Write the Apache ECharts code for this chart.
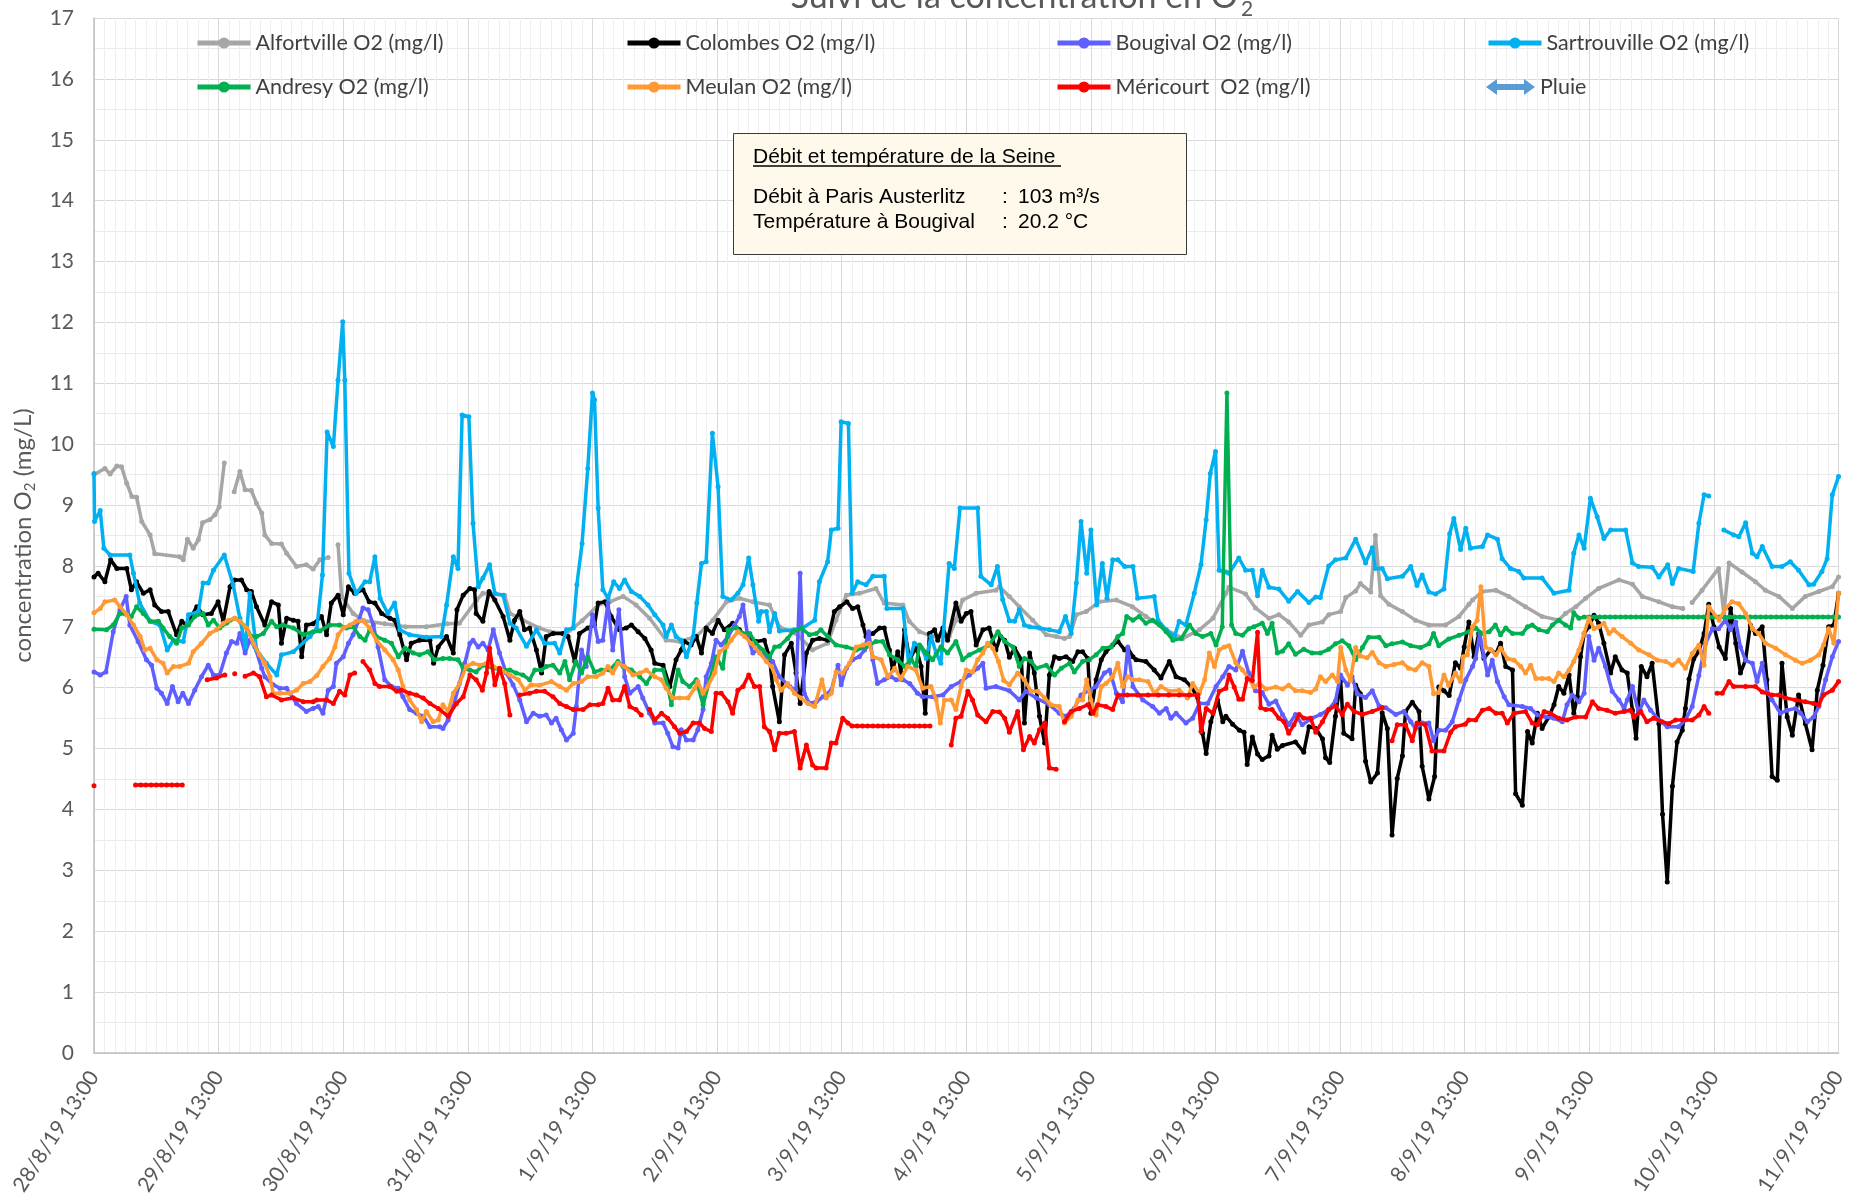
<!DOCTYPE html>
<html><head><meta charset="utf-8">
<script src="https://cdn.jsdelivr.net/npm/echarts@6/dist/echarts.min.js"></script>
<style>html,body{margin:0;padding:0;background:#fff}#c{width:1849px;height:1201px}</style>
</head><body><div id="c"></div>
<script>
// ---- tick labels ----
const xLabels = ['28/8/19 13:00','29/8/19 13:00','30/8/19 13:00','31/8/19 13:00','1/9/19 13:00','2/9/19 13:00','3/9/19 13:00','4/9/19 13:00','5/9/19 13:00','6/9/19 13:00','7/9/19 13:00','8/9/19 13:00','9/9/19 13:00','10/9/19 13:00','11/9/19 13:00'];
const seriesNames = ['Alfortville O2 (mg/l)','Colombes O2 (mg/l)','Bougival O2 (mg/l)','Sartrouville O2 (mg/l)','Andresy O2 (mg/l)','Meulan O2 (mg/l)','Méricourt  O2 (mg/l)','Pluie'];

// ---- data: [hours since 28/8/19 13:00, O2 mg/L] ----
const alfortville = [[0,9.5],[2.1,9.6],[3.1,9.51],[4.4,9.64],[5.3,9.63],[6.3,9.36],[7.3,9.14],[8.2,9.13],[9.2,8.73],[10.8,8.51],[11.7,8.2],[16.5,8.15],[17.2,8.1],[18,8.44],[19.1,8.29],[20.1,8.43],[20.9,8.71],[22.3,8.76],[23.3,8.84],[24.1,8.97],[25.1,9.69],[26,'-'],[27,9.22],[28.1,9.55],[29.1,9.25],[30.3,9.24],[31.3,9.03],[32.3,8.87],[32.9,8.51],[34.2,8.37],[36.1,8.36],[37.1,8.21],[39,7.99],[40.9,8.02],[42.2,7.95],[43.5,8.1],[45.1,8.14],[46,'-'],[47,8.35],[47.7,7.5],[49.9,7.22],[52,7.1],[56,7.05],[60,7.0],[64,7.0],[68,7.05],[70.4,7.06],[73.7,7.44],[74.9,7.55],[79.1,7.52],[80.1,7.22],[82.6,7.11],[85.8,6.98],[87.8,6.92],[91,6.89],[94,7.1],[97.1,7.36],[99.3,7.41],[101.9,7.5],[104.4,7.36],[107,7.14],[110.2,6.78],[112.8,6.76],[116,6.84],[119.2,7.11],[121.8,7.41],[124.3,7.47],[126.9,7.41],[130.1,7.36],[132,7.0],[135.2,6.89],[138.4,6.62],[141.3,6.73],[142.9,7.11],[144.9,7.52],[147.4,7.55],[150.6,7.63],[152.2,7.39],[155.8,7.36],[157,7.09],[159,6.92],[161.5,6.84],[164.7,6.84],[166,7.11],[167.3,7.44],[169.9,7.55],[173.7,7.6],[174.4,7.66],[176.3,7.5],[178.2,7.33],[180.8,7.11],[183.4,6.87],[185.3,6.84],[186.9,6.81],[187.9,6.84],[189.2,7.2],[191.1,7.25],[193.6,7.41],[196.9,7.44],[200,7.33],[202.6,7.17],[206.5,6.95],[209.7,6.81],[212.9,6.95],[215.5,7.14],[218,7.55],[218.6,7.65],[221.8,7.54],[223.7,7.31],[226.3,7.14],[228.2,7.2],[230.1,7.08],[232.4,6.86],[234,7.03],[236.6,7.08],[237.8,7.2],[240.1,7.25],[241.1,7.48],[243,7.59],[243.9,7.71],[245.9,7.57],[246.8,8.5],[247.8,7.51],[249.4,7.37],[252,7.25],[254.5,7.11],[257.1,7.03],[260.3,7.03],[262.9,7.17],[264.8,7.37],[265.5,7.44],[267.4,7.58],[270,7.6],[272.5,7.5],[275.7,7.33],[278.9,7.17],[282.1,7.11],[283.4,7.22],[285.4,7.33],[287.3,7.47],[289.8,7.63],[293.7,7.77],[296.3,7.7],[298.2,7.5],[301.4,7.41],[304,7.33],[306,7.3],[307,'-'],[307.8,7.4],[309.7,7.6],[312.9,7.96],[313.9,7.22],[314.9,8.05],[317.4,7.9],[320,7.74],[321.9,7.6],[324.5,7.5],[327.1,7.3],[329.6,7.5],[332.2,7.58],[334.8,7.66],[336,7.82]];

const colombes = [[0,7.82],[0.8,7.88],[2.1,7.74],[3.2,8.1],[4.4,7.96],[6.3,7.96],[7.2,7.61],[8.2,7.74],[9.5,7.55],[10.8,7.61],[11.7,7.36],[13,7.25],[14.3,7.25],[15.9,6.87],[16.9,7.09],[17.8,7.03],[19.8,7.33],[21,7.2],[22.6,7.22],[23.9,7.41],[24.9,7.09],[26.2,7.66],[27.1,7.77],[28.4,7.77],[29.4,7.61],[30.3,7.58],[31.3,7.33],[32.9,7.03],[34.2,7.41],[35.5,7.36],[36.1,6.73],[37.1,7.14],[38.4,7.11],[39.3,7.09],[40,6.51],[40.9,7.03],[42.2,7.05],[43.8,7.17],[44.8,6.87],[45.7,7.39],[47,7.52],[48,7.2],[49,7.66],[50.2,7.55],[51.8,7.61],[53,7.41],[54.1,7.39],[55.4,7.22],[57,7.14],[57.9,7.11],[58.9,6.87],[60.2,6.46],[61.1,6.73],[62.7,6.78],[64.7,6.78],[65.4,6.4],[66.3,6.67],[67.9,6.84],[69.2,6.57],[69.9,7.28],[71.1,7.52],[72.4,7.63],[73.3,7.61],[73.6,7.22],[74.9,7.09],[76.1,7.58],[77.2,7.44],[78.8,7.17],[80.1,6.78],[81,7.11],[82,7.25],[82.9,6.95],[83.9,6.98],[85.2,6.62],[86.2,6.24],[87.1,6.84],[88.4,6.89],[90.3,6.89],[91.3,6.84],[92.6,6.43],[93.5,6.89],[95.1,6.98],[96.4,7.03],[97.1,7.39],[98.4,7.41],[99.6,7.17],[101.2,6.95],[102.5,6.98],[103.5,7.03],[104.8,6.92],[106.1,6.81],[107.3,6.62],[108,6.4],[109.6,6.37],[110.9,6.02],[112.1,6.46],[113.1,6.62],[113.7,6.76],[115,6.7],[116,6.84],[117,6.57],[117.9,6.98],[119.1,6.89],[120.2,7.11],[121.4,6.95],[123,7.06],[124.3,6.95],[125.6,6.84],[127.5,6.76],[129.1,6.78],[130.1,6.5],[130.7,6.02],[132,5.44],[133,6.54],[134.3,6.73],[135.2,6.24],[136,5.74],[137.2,6.57],[138.4,6.78],[139.7,6.81],[141.3,6.78],[142.6,7.25],[143.6,7.33],[145,7.41],[146.1,7.3],[147.1,7.33],[148.1,7.03],[148.7,6.84],[150,6.89],[151.3,6.98],[152.2,6.98],[153.2,6.62],[153.8,6.29],[154.8,6.59],[155.4,6.24],[156.1,6.95],[157.1,6.46],[158.3,6.67],[159.3,6.35],[160.1,5.58],[160.9,6.89],[161.9,6.95],[162.5,6.78],[163.5,6.98],[164.4,6.78],[166,7.39],[167,7.09],[168,7.22],[168.9,7.25],[169.9,6.7],[171.2,6.95],[172.4,6.98],[173.7,6.62],[174.6,6.84],[175.4,6.78],[176.3,6.5],[177.3,6.65],[178.6,6.46],[179.2,5.42],[180.2,6.57],[181.1,6.24],[182.1,5.53],[183.1,5.09],[184,6.21],[185,6.51],[185.9,6.48],[187.2,6.51],[188.5,6.43],[189.5,6.59],[190.4,6.59],[191.4,6.48],[192,5.58],[193,6.13],[194,6.46],[194.9,6.59],[196.2,6.7],[197.2,6.76],[198.5,6.62],[199.1,6.65],[200.1,6.51],[200.7,6.46],[202.6,6.43],[204.2,6.29],[205.5,6.16],[207.1,6.43],[208.4,6.18],[210,6.13],[211.3,6.02],[212.6,5.83],[213.5,5.25],[214.2,4.92],[215.1,5.44],[216.4,5.8],[217.4,5.44],[218,5.53],[219.3,5.4],[220.6,5.3],[221.5,5.27],[222.1,4.74],[223.1,5.19],[224.1,4.91],[225,4.82],[226.3,4.88],[226.9,5.22],[227.9,4.99],[228.9,5.05],[231.4,5.11],[233,4.94],[234,5.36],[235.3,5.33],[236.6,5.16],[237.2,4.85],[238,4.77],[239.1,5.53],[240.1,6.12],[240.7,5.25],[242.3,5.16],[243,6.04],[243.9,5.9],[244.9,4.79],[245.9,4.45],[247.2,4.6],[248.1,5.59],[249.1,5.33],[250,3.58],[251,4.51],[252,4.88],[252.6,5.61],[253.9,5.76],[255.2,5.61],[255.8,4.71],[257.1,4.17],[258.2,4.54],[259,6.01],[260,5.95],[261,5.87],[262.2,6.41],[263.2,6.32],[263.9,6.67],[264.8,7.08],[265.8,6.51],[266.7,6.89],[267.7,6.48],[269,6.62],[270,6.56],[270.9,6.73],[271.9,6.35],[273.2,6.29],[273.8,4.26],[275.1,4.07],[276.1,5.28],[277,5.09],[278,5.58],[278.9,5.33],[280.2,5.52],[281.2,5.72],[282.1,6.02],[283.1,5.91],[284.1,6.21],[285,5.58],[285.7,5.85],[286.3,6.51],[287,6.89],[287.9,7.0],[288.9,7.19],[289.8,7.06],[290.8,6.73],[292.1,6.24],[293,6.51],[294.3,6.29],[295.3,6.24],[296.3,5.63],[297,5.17],[298,6.35],[299.1,6.18],[300.1,6.4],[301.4,5.41],[302.1,3.92],[303,2.81],[304,4.38],[304.9,5.11],[305.9,5.3],[306.5,5.66],[307.2,6.14],[308.1,6.47],[309.1,6.6],[310.1,6.89],[311,7.37],[312,7.0],[313,6.67],[314.2,6.48],[315.2,7.3],[316.2,6.73],[317.1,6.24],[318.1,6.46],[319,7.03],[320,6.89],[321.3,7.0],[322.2,6.13],[323.2,4.54],[324.2,4.48],[325.1,6.4],[326.1,5.52],[327.1,5.22],[328.3,5.88],[329.6,5.41],[330.9,4.98],[331.9,5.96],[333,6.37],[334.1,7.0],[335.1,7.03],[336,7.55]];

const bougival = [[0,6.26],[1.2,6.21],[2.3,6.26],[3.7,6.92],[5,7.28],[6.2,7.5],[6.9,7.03],[8.5,6.76],[10.1,6.46],[11.1,6.37],[12.1,5.99],[13,5.91],[14.1,5.74],[15.1,6.02],[16.2,5.77],[17.1,5.91],[18.2,5.74],[19.4,5.96],[20.7,6.18],[22,6.37],[23,6.21],[24.2,6.21],[25.5,6.57],[26.5,6.76],[27.5,6.73],[28.1,6.89],[29.1,6.57],[30,6.78],[31,6.67],[32.3,6.32],[32.9,6.18],[34.5,6.05],[35.8,5.99],[37.1,5.99],[39,5.74],[40.9,5.61],[42.2,5.66],[43.2,5.69],[44.1,5.58],[45.1,5.96],[46.1,6.02],[46.7,6.4],[48,6.51],[49,6.73],[49.9,6.87],[50.9,7.09],[51.8,7.31],[52.8,7.28],[53.8,7.03],[54.7,6.67],[56,6.13],[57.3,6.02],[58.6,5.99],[59.5,5.85],[60.8,5.64],[62.1,5.58],[63.4,5.53],[64.7,5.36],[66.6,5.36],[67.2,5.33],[68.2,5.47],[69.2,5.69],[70.4,6.07],[71.4,6.4],[72.4,6.73],[73,6.78],[74,6.67],[74.9,6.73],[75.9,6.62],[76.9,6.95],[78.1,6.57],[79.4,6.24],[80.7,6.05],[82,5.8],[83.3,5.44],[84.6,5.58],[85.8,5.53],[87.1,5.55],[88.1,5.42],[89,5.5],[90,5.31],[91,5.14],[92.3,5.25],[92.9,5.69],[93.9,6.62],[94.8,6.35],[96,7.2],[97.1,6.76],[98,6.78],[99,7.39],[99.9,6.62],[101.1,7.28],[102.2,6.18],[103.2,5.91],[104.8,6.02],[105.7,5.83],[107,5.58],[108,5.42],[109.6,5.42],[110.5,5.25],[111.5,5.03],[112.5,5.01],[113.1,5.31],[114.1,5.14],[115.4,5.14],[116.3,5.31],[117.3,5.64],[117.9,6.18],[118.9,6.4],[119.8,6.78],[120.8,6.7],[122.1,6.84],[123.4,7.03],[124.3,7.17],[125,7.36],[125.9,6.84],[126.9,6.57],[128.2,6.65],[129.5,6.51],[130.7,6.43],[132,6.18],[134,6.02],[135.2,5.96],[136,7.88],[136.8,5.91],[137.8,5.74],[139.1,5.77],[140.4,5.85],[142,5.96],[143.3,6.37],[143.9,6.05],[144.9,6.32],[146.1,6.46],[147.4,6.51],[148.4,6.62],[149.2,6.92],[150,6.46],[150.9,6.07],[152.2,6.13],[153.5,6.18],[154.5,6.13],[155.8,6.13],[157.1,6.07],[158.6,5.91],[159.6,5.85],[161.5,5.85],[163.5,5.88],[165.1,6.02],[167,6.1],[168.6,6.21],[170.2,6.32],[171.2,6.4],[171.8,5.99],[173.7,6.02],[176.3,5.95],[178.2,5.8],[179.5,5.94],[181.5,5.83],[184,5.72],[185.9,5.58],[187.2,5.53],[188.8,5.66],[190.1,5.88],[191.7,5.96],[193,6.02],[194.6,6.24],[195.6,6.29],[196.9,5.91],[198.1,5.77],[199.1,6.67],[200.1,6.02],[202,5.8],[203.9,5.69],[205.2,5.58],[206.5,5.66],[207.4,5.5],[208.4,5.58],[210.3,5.42],[211.6,5.5],[212.9,5.74],[214.5,5.74],[216.1,6.02],[217.4,6.18],[218.6,6.35],[219.9,6.29],[221.2,6.6],[222.4,6.24],[223.7,5.95],[225,5.92],[226.3,5.73],[227.6,5.78],[228.9,5.56],[230.1,5.39],[231.4,5.56],[232.7,5.39],[234.6,5.5],[236.2,5.56],[237.8,5.64],[239.1,5.78],[240.1,6.21],[241.4,6.04],[242.3,6.18],[243.3,5.9],[244.9,5.84],[246.2,5.95],[247.5,5.7],[248.8,5.67],[250.7,5.56],[252.3,5.61],[253.6,5.44],[254.5,5.33],[255.8,5.42],[257.1,5.42],[258,5.13],[259,5.3],[260.3,5.3],[261.6,5.44],[262.9,5.8],[264.2,6.13],[265.5,6.35],[266.1,6.48],[266.9,6.89],[267.7,6.51],[268.4,6.21],[269.3,6.45],[270.3,6.1],[271.6,5.85],[272.5,5.72],[275.1,5.69],[276.7,5.66],[278,5.55],[279.6,5.52],[281.2,5.5],[282.8,5.44],[283.7,5.72],[284.7,5.88],[286,5.77],[287,5.91],[287.9,6.84],[288.9,6.45],[289.8,6.65],[291.1,6.35],[292.4,5.94],[293.7,5.8],[294.7,5.66],[295.3,5.8],[296.3,6.02],[297.5,5.58],[298.5,5.8],[299.8,5.63],[301.4,5.47],[303,5.36],[305.2,5.36],[306.5,5.47],[307.8,5.69],[309.1,6.2],[310.4,6.73],[311.7,6.97],[312.9,6.97],[314.2,7.11],[315.2,6.95],[316.2,7.08],[317.1,6.67],[318.1,6.45],[319.4,6.4],[320.3,6.1],[321.3,6.4],[322.2,5.93],[323.2,5.8],[324.8,5.58],[326.1,5.63],[327.7,5.66],[328.7,5.58],[330,5.44],[331.2,5.52],[332.2,5.69],[333.5,6.13],[334.8,6.51],[336,6.76]];

const sartrouville = [[0,9.52],[0.1,8.73],[1.2,8.91],[1.9,8.29],[3.1,8.18],[6.9,8.18],[7.6,7.88],[8.8,7.39],[10.8,7.09],[12.7,7.03],[14.1,6.62],[15.3,6.78],[17.2,6.76],[18.2,7.2],[20.1,7.25],[21,7.72],[22,7.72],[23,7.93],[25.1,8.18],[26.8,7.69],[28.1,7.14],[29.2,6.67],[30,7.55],[31.3,6.62],[33.2,6.4],[35.2,6.21],[36.1,6.54],[38.4,6.59],[41.6,6.84],[42.9,6.97],[44,7.85],[44.9,10.2],[46.1,9.96],[47,11.05],[47.9,12.01],[48.3,11.05],[49.1,7.88],[50.5,7.55],[52.2,7.74],[53.1,7.74],[54.1,8.15],[55.1,7.47],[56.6,7.22],[57.9,7.39],[58.9,6.95],[60.8,6.87],[64,6.83],[66.9,6.84],[67.9,7.36],[69.2,8.15],[70.1,7.96],[70.9,10.48],[72.2,10.45],[73,8.7],[74,7.66],[74.9,7.8],[76.2,8.02],[77.2,7.55],[78.8,7.52],[80.1,7.06],[81.3,6.98],[83.3,6.68],[85.2,6.95],[86.8,6.73],[88.7,6.73],[89.7,6.57],[91,6.95],[92.3,6.98],[93,7.69],[94,8.37],[95.1,9.6],[96,10.84],[96.4,10.73],[97.1,8.95],[98,7.61],[99,7.47],[100.1,7.74],[101.2,7.63],[102.2,7.77],[103.5,7.58],[105.1,7.5],[106.7,7.36],[108,7.2],[109.6,7.03],[110.2,6.84],[111.2,7.03],[112.1,6.84],[113.1,6.78],[114.1,6.51],[115.4,6.84],[116.1,7.39],[117,8.04],[117.9,8.07],[119.1,10.18],[120.2,9.3],[121.1,7.5],[122.7,7.44],[124,7.55],[125,7.69],[126.1,8.13],[126.9,7.69],[128,7.09],[128.5,7.25],[129.5,7.25],[130.1,6.92],[131.1,7.22],[132,6.93],[134.9,6.95],[136.5,6.98],[138.8,7.11],[139.7,7.74],[141.3,8.07],[142,8.59],[143.3,8.62],[143.9,10.37],[145.3,10.34],[146,7.55],[147.1,7.74],[148.7,7.69],[150,7.83],[152.2,7.83],[152.7,7.3],[155.8,7.3],[156.9,6.4],[158,6.73],[159.3,6.67],[160.3,6.48],[161.2,6.84],[162.2,6.57],[163.1,6.4],[164.7,8.04],[165.7,7.96],[166.8,8.95],[170.2,8.95],[170.8,7.83],[172.8,7.69],[174,7.99],[175,7.45],[176.3,7.1],[177.3,7.09],[178.2,7.28],[179.2,7.03],[180.2,7.0],[182.1,6.98],[184,6.95],[185.9,6.92],[187.1,7.17],[188.2,6.89],[189.2,7.72],[190.1,8.73],[191.2,7.88],[192,8.59],[193.1,7.36],[194.2,8.04],[195.1,7.47],[196.2,8.1],[197.2,8.1],[198.5,7.99],[200.1,7.99],[201,7.47],[204.2,7.5],[204.9,7.11],[206.5,6.95],[208.1,6.84],[209,7.09],[210.3,7.03],[211.9,7.55],[213.2,8.02],[214.2,8.76],[215,9.52],[216,9.88],[216.7,7.93],[218,7.9],[218.6,7.88],[220.5,8.13],[221.8,7.93],[223.1,7.93],[224.1,7.51],[225,7.93],[226.3,7.65],[228.2,7.62],[230.1,7.42],[231.8,7.58],[234,7.4],[235.3,7.49],[236.2,7.48],[237.8,8.0],[239.1,8.1],[241.1,8.13],[243,8.44],[244.9,8.05],[246.2,8.3],[246.8,7.96],[248.1,7.96],[249.1,7.79],[252,7.83],[253.6,7.99],[254.8,7.68],[255.8,7.85],[257.1,7.57],[258.4,7.54],[260,7.62],[261.1,8.53],[261.9,8.78],[263.2,8.27],[264.2,8.62],[265.1,8.29],[267.4,8.32],[268.4,8.51],[270.3,8.44],[271.2,8.12],[272.8,7.96],[274.4,7.91],[275.4,7.8],[278.9,7.8],[281.2,7.55],[284.1,7.6],[285,8.21],[286,8.51],[287,8.29],[288.2,9.11],[289.5,8.81],[290.8,8.45],[292.1,8.59],[295,8.59],[296.3,8.05],[297.5,7.99],[300.1,7.98],[301.4,7.82],[303.1,8.02],[304,7.71],[305.2,7.96],[308,7.91],[309.1,8.7],[310.1,9.17],[311,9.15],[312,'-'],[313.9,8.59],[315.8,8.51],[316.8,8.48],[318.1,8.71],[319.4,8.21],[320.3,8.15],[321.3,8.32],[323.2,7.99],[325.1,7.99],[326.7,8.07],[328.3,7.93],[330.3,7.69],[331.2,7.7],[332.8,7.91],[333.8,8.12],[334.8,9.17],[336,9.47]];

const andresy = [[0,6.96],[2.4,6.95],[3.7,7.03],[5,7.22],[6.3,7.2],[7.2,7.17],[8.2,7.33],[9.5,7.22],[10.8,7.09],[12.4,7.09],[13.3,6.98],[14.6,6.84],[15.9,6.73],[16.9,6.98],[18.2,7.03],[19.4,7.17],[21,7.22],[22,7.03],[23,7.11],[24.2,6.98],[25.5,7.06],[27.1,7.14],[28.1,7.09],[29.4,6.98],[30.3,6.84],[31.3,6.84],[32.6,6.89],[34.2,7.09],[35.2,7.0],[36.4,7.03],[38.4,6.98],[40.3,6.87],[42.2,6.92],[43.5,6.93],[45.4,7.03],[47.3,7.03],[48.6,6.98],[49.9,7.0],[51.2,6.84],[52.2,6.78],[53.1,6.95],[54.4,6.84],[56,6.78],[57.3,6.73],[58.6,6.51],[59.9,6.65],[61.5,6.57],[62.7,6.54],[64.3,6.59],[65.6,6.46],[67.2,6.48],[68.5,6.48],[70.1,6.46],[71.1,6.32],[72.4,6.29],[73.6,6.26],[74.9,6.37],[76.9,6.32],[78.8,6.29],[80.1,6.29],[81.3,6.24],[82.6,6.21],[83.9,6.13],[84.9,6.29],[86.2,6.29],[87.1,6.35],[88.4,6.37],[89.7,6.24],[90.7,6.43],[91.6,6.13],[92.8,6.43],[93.9,6.24],[95.1,6.51],[96.4,6.26],[97.7,6.29],[99.3,6.29],[100.9,6.43],[101.9,6.35],[103.5,6.29],[105.1,6.18],[106.4,6.07],[108,6.29],[109.6,6.29],[110.5,6.02],[111.2,5.72],[112.5,6.29],[113.4,6.1],[114.7,6.02],[116,6.13],[117.3,5.72],[118.6,6.13],[119.8,6.51],[121.1,6.32],[122.1,6.95],[123.7,6.98],[125,6.89],[126.3,6.89],[127.5,6.73],[128.8,6.62],[130.1,6.5],[131.1,6.67],[132,6.68],[133.6,6.81],[134.6,6.92],[136.2,6.98],[137.8,6.87],[139.1,6.89],[140,6.95],[141.3,6.84],[142.9,6.7],[144.9,6.67],[146.8,6.62],[148.7,6.67],[150.6,6.76],[151.9,6.76],[153.2,6.54],[154.8,6.46],[156.1,6.35],[157.4,6.46],[158.3,6.35],[159,6.7],[160.3,6.57],[161.5,6.46],[163.1,6.67],[164.4,6.57],[166,6.76],[167.3,6.46],[168.6,6.54],[170.5,6.62],[172.4,6.7],[174.1,6.92],[175.4,6.76],[177,6.67],[178.2,6.35],[179.2,6.48],[180.5,6.43],[181.5,6.32],[183.4,6.37],[185,6.21],[186.3,6.32],[187.9,6.4],[188.8,6.26],[190.4,6.43],[191.7,6.46],[193,6.54],[194.3,6.65],[195.9,6.67],[197.2,6.84],[198.1,6.89],[198.9,7.17],[200.1,7.11],[201.3,7.17],[202.6,7.06],[203.9,7.11],[205.2,7.03],[206.5,6.92],[207.8,6.78],[209.4,6.81],[211,7.03],[212.2,6.89],[213.5,6.84],[215.1,6.89],[216.1,6.7],[217.3,7.0],[218.2,10.84],[219.1,7.03],[219.9,6.89],[221.2,6.86],[222.4,6.97],[223.4,7.0],[225,7.06],[226,6.89],[226.9,7.06],[227.9,6.57],[228.9,6.6],[230.1,6.72],[231.4,6.55],[233,6.63],[234.6,6.57],[236.2,6.57],[237.8,6.63],[239.1,6.72],[240.4,6.77],[241.7,6.69],[243,6.46],[244.3,6.66],[245.5,6.83],[247.5,6.83],[248.8,6.69],[250,6.72],[252,6.75],[253.6,6.69],[255.5,6.66],[257.1,6.72],[258,6.89],[259,6.69],[260.9,6.8],[262.9,6.86],[264.8,6.92],[266.1,6.98],[267.4,6.89],[268.7,6.92],[269.9,7.03],[270.9,6.87],[271.9,6.98],[273.2,6.89],[275.1,6.89],[276.1,7.0],[277,7.03],[278.3,6.95],[279.9,6.92],[280.9,7.03],[282.1,7.11],[283.4,7.03],[284.4,6.98],[285,7.23],[286,7.14],[287,7.16],[288,7.16],[289,7.16],[290,7.16],[291,7.16],[292,7.16],[293,7.16],[294,7.16],[295,7.16],[296,7.16],[297,7.16],[298,7.16],[299,7.16],[300,7.16],[301,7.16],[302,7.16],[303,7.16],[304,7.16],[305,7.16],[306,7.16],[307,7.16],[308,7.16],[309,7.16],[310,7.16],[311,7.16],[312,7.16],[313,7.16],[314,7.16],[315,7.16],[316,7.16],[317,7.16],[318,7.16],[319,7.16],[320,7.16],[321,7.16],[322,7.16],[323,7.16],[324,7.16],[325,7.16],[326,7.16],[327,7.16],[328,7.16],[329,7.16],[330,7.16],[331,7.16],[332,7.16],[333,7.16],[334,7.16],[335,7.16],[336,7.16]];

const meulan = [[0,7.23],[1.2,7.3],[2.1,7.41],[4,7.44],[5,7.33],[6.3,7.2],[7.6,7.03],[8.9,6.84],[9.8,6.62],[10.8,6.65],[12.1,6.46],[13.3,6.4],[14.1,6.24],[15.3,6.35],[16.5,6.35],[18.2,6.4],[19.1,6.59],[20.7,6.73],[22.3,6.89],[23.6,6.95],[24.9,7.06],[25.9,7.11],[27.1,7.14],[28.1,7.09],[29.4,6.98],[30.7,6.73],[31.9,6.54],[32.9,6.4],[33.9,6.18],[34.5,5.91],[35.8,5.91],[37.7,5.91],[39,5.96],[40.3,6.07],[41.6,6.1],[42.9,6.2],[44.1,6.35],[45.4,6.48],[46.4,6.67],[47,6.87],[48,6.98],[49.3,7.03],[50.5,7.09],[51.8,7.1],[53.1,6.98],[54.4,6.78],[56,6.62],[57.6,6.46],[58.6,6.29],[59.5,6.02],[60.8,5.8],[62.1,5.64],[63.1,5.44],[64,5.61],[65.3,5.44],[66.3,5.47],[67.2,5.72],[68.2,5.61],[69.2,5.91],[70.4,6.07],[71.7,6.35],[73,6.4],[74.3,6.37],[75.6,6.4],[76.9,6.35],[78.5,6.29],[80.1,6.21],[81.7,6.13],[83,5.96],[84.2,6.05],[85.8,6.04],[88.1,6.1],[89.7,6.02],[91,5.96],[92.3,6.07],[93.9,6.1],[95.1,6.18],[96.7,6.18],[98,6.24],[99,6.35],[99.9,6.24],[100.9,6.4],[102.2,6.35],[103.8,6.21],[105.1,6.24],[106.4,6.29],[108,6.18],[109.3,6.13],[110.2,5.99],[111.5,5.83],[112.8,5.83],[114.4,5.83],[115.7,5.99],[116.3,6.1],[117.3,5.91],[118.2,6.02],[119.5,6.24],[120.5,6.59],[121.8,6.67],[122.7,6.78],[124,6.92],[125.3,6.84],[126.6,6.73],[128.2,6.57],[129.5,6.43],[130.5,6.35],[131.4,6.13],[132.3,5.96],[133.6,6.07],[134.9,5.91],[136.2,5.83],[137.5,5.74],[138.8,5.69],[140.2,6.13],[141,5.83],[142,5.91],[142.9,6.26],[144.2,6.24],[145.5,6.4],[146.8,6.67],[148.1,6.7],[149.3,6.73],[150,6.51],[151.6,6.46],[152.9,6.18],[154.2,6.32],[155.4,6.15],[156.7,6.35],[158.3,6.29],[159.6,5.99],[161.2,6.02],[162.2,5.8],[163,5.42],[163.8,5.8],[165.1,5.8],[166,5.64],[167,6.02],[168,6.29],[169.2,6.26],[170.2,6.46],[171.2,6.57],[172.1,6.73],[173.1,6.65],[174.2,6.43],[175.2,6.12],[176.3,6.05],[177.9,6.24],[179.2,6.13],[180.5,5.94],[181.8,5.94],[183.1,5.83],[184.3,5.72],[185.9,5.69],[186.9,5.42],[188.2,5.53],[189.5,5.8],[190.4,5.8],[191.2,6.13],[192,5.8],[193,5.55],[194,6.02],[194.9,6.07],[196.2,6.18],[197.2,6.4],[198.1,6.02],[199.1,6.18],[200.1,6.13],[201.3,6.13],[203,6.1],[204.2,5.91],[205.5,6.02],[207.1,5.94],[209,5.96],[210.6,5.83],[211.6,6.07],[212.9,5.91],[213.9,6.13],[214.8,6.57],[215.8,6.35],[216.7,6.62],[217.7,6.67],[218.6,6.69],[219.9,6.41],[221.2,6.29],[222.4,6.15],[223.4,6.01],[224.4,6.07],[225.7,5.98],[227.6,6.01],[228.9,5.98],[230.1,6.04],[231.4,5.95],[232.7,5.95],[234.3,5.92],[235.3,5.98],[236.2,6.18],[237.2,6.1],[238.5,6.21],[239.5,6.1],[240.1,6.66],[241.1,6.29],[242,6.12],[243,6.66],[243.9,6.52],[245.2,6.49],[246.2,6.58],[247.5,6.41],[248.8,6.35],[250.4,6.38],[252,6.41],[253.2,6.32],[254.5,6.29],[255.8,6.41],[257.1,6.35],[258,5.9],[259,5.92],[260,6.21],[260.9,6.04],[262.2,6.24],[263.2,6.1],[263.7,6.51],[264.5,6.54],[265.5,7.0],[266.4,7.11],[267.1,7.66],[268,6.67],[269,6.62],[270,6.54],[270.9,6.65],[272.2,6.48],[273.5,6.45],[274.8,6.35],[275.7,6.24],[276.7,6.37],[277.7,6.15],[278.9,6.15],[280.2,6.15],[281.2,6.1],[282.1,6.24],[283.1,6.18],[284.1,6.29],[285,6.43],[286,6.62],[287,6.89],[287.9,7.14],[288.9,6.97],[289.8,7.0],[290.8,7.06],[291.8,6.89],[292.7,6.95],[294.3,6.84],[296,6.73],[297.5,6.62],[299.5,6.54],[301.1,6.45],[302.7,6.43],[304,6.37],[305.2,6.45],[306.5,6.32],[307.8,6.56],[309.1,6.7],[310.1,6.37],[311,7.33],[313,7.11],[314.2,7.3],[315.5,7.41],[316.8,7.38],[318.1,7.22],[319.4,6.97],[320.6,6.89],[321.9,6.73],[323.9,6.65],[325.8,6.54],[327.7,6.45],[329,6.4],[330.6,6.45],[332.2,6.54],[333.1,6.7],[334.1,6.97],[335.1,6.73],[336,7.55]];

const mericourt = [[0,4.39],[1,'-'],[8,4.4],[9,4.4],[10,4.4],[11,4.4],[12,4.4],[13,4.4],[14,4.4],[15,4.4],[16,4.4],[17,4.4],[18,'-'],[21.8,6.13],[23.6,6.16],[25.2,6.21],[26,'-'],[27.1,6.23],[28,'-'],[29.1,6.19],[30.7,6.24],[31.9,6.18],[33.2,5.85],[34.2,5.88],[36.1,5.8],[38.4,5.83],[40.3,5.77],[42.2,5.77],[42.9,5.8],[44.8,5.8],[46.1,5.74],[47.3,5.94],[48.3,5.88],[49.3,6.21],[50.2,6.24],[51,'-'],[51.8,6.43],[53.1,6.29],[54.1,6.07],[55,6.02],[57,6.02],[58.3,5.94],[59.2,5.96],[60.8,5.91],[62.1,5.88],[63.4,5.83],[64.7,5.74],[66.3,5.66],[68.2,5.53],[69.8,5.74],[71.1,5.85],[72.4,6.21],[73.6,6.13],[74.8,5.96],[75.6,6.24],[76.2,6.65],[77.2,6.05],[78.1,6.32],[79.1,6.07],[80.1,5.55],[81,'-'],[82,5.88],[83.9,5.91],[85.2,5.94],[86.8,5.94],[88.4,5.85],[89.7,5.74],[91,5.69],[92.3,5.64],[94.2,5.64],[95.5,5.72],[97.1,5.72],[98,5.74],[99,5.99],[99.9,5.8],[101.2,5.8],[102.2,6.02],[103.2,5.69],[104.4,5.64],[105.4,5.55],[106.2,'-'],[107,5.64],[108,5.47],[109.3,5.58],[110.5,5.5],[111.8,5.36],[112.8,5.25],[114.1,5.28],[115.4,5.42],[116.6,5.42],[117.6,5.33],[118.9,5.28],[119.8,5.91],[120.8,5.91],[122.1,5.77],[123,5.58],[124,5.96],[125,6.02],[126.1,6.21],[127.2,6.02],[128.2,6.02],[129.1,5.36],[130.1,5.28],[131.1,4.98],[132,5.25],[133.3,5.25],[134.9,5.28],[136,4.68],[137.2,5.06],[138.4,4.73],[139.1,4.68],[141,4.68],[142,5.09],[142.9,5.09],[144.2,5.5],[145.2,5.42],[146,5.37],[147,5.37],[148,5.37],[149,5.37],[150,5.37],[151,5.37],[152,5.37],[153,5.37],[154,5.37],[155,5.37],[156,5.37],[157,5.37],[158,5.37],[159,5.37],[160,5.37],[161,5.37],[162,'-'],[165.1,5.06],[166,5.5],[167,5.53],[168.3,5.94],[169.2,5.8],[170.2,5.55],[171.8,5.44],[173.1,5.61],[174.4,5.6],[175.4,5.5],[176.3,5.27],[177.9,5.61],[179,4.98],[180.2,5.2],[181.1,5.09],[182.1,5.31],[183.1,5.42],[184,4.68],[185.3,4.66],[186,'-'],[186.9,5.44],[188.2,5.61],[189.8,5.66],[191.4,5.72],[192.4,5.58],[193.3,5.72],[194.9,5.69],[196.2,5.64],[197.2,5.88],[199,5.88],[201,5.88],[203,5.88],[205,5.88],[207,5.88],[209,5.88],[211,5.88],[212.6,5.88],[213.2,5.28],[214.2,5.66],[215.5,5.58],[216.7,5.94],[218,5.99],[218.6,6.21],[219.6,6.01],[220.5,5.81],[221.2,5.81],[222.1,6.15],[223.1,6.12],[224.1,6.91],[224.7,5.67],[225.7,5.64],[226.9,5.64],[228.2,5.5],[229.2,5.44],[230.1,5.25],[231.1,5.39],[232.1,5.56],[233,5.5],[234.3,5.5],[235.3,5.27],[236.6,5.44],[237.8,5.64],[239.1,5.7],[240.4,5.56],[241.4,5.73],[242.7,5.61],[244.3,5.56],[246.2,5.61],[248.1,5.67],[249,'-'],[250,5.13],[251,5.39],[252.6,5.39],[253.9,5.13],[254.8,5.42],[256.4,5.39],[257.7,4.96],[260,4.96],[261.3,5.27],[262.2,5.36],[264.1,5.4],[264.8,5.47],[266.1,5.47],[267.4,5.63],[268.7,5.66],[270,5.58],[271.2,5.58],[272.2,5.42],[273.5,5.58],[275.7,5.61],[277,5.42],[278,5.39],[279.3,5.61],[280.5,5.58],[282.1,5.5],[283.7,5.47],[285.4,5.52],[287.3,5.52],[288.6,5.77],[289.8,5.66],[291.4,5.63],[293,5.58],[294.7,5.61],[295.9,5.63],[296.6,5.52],[297.9,5.61],[299.1,5.44],[300.4,5.5],[302,5.44],[303.3,5.41],[304.6,5.47],[305.9,5.47],[307.8,5.47],[309.1,5.55],[310.1,5.69],[311,5.58],[311.8,'-'],[312.6,5.91],[313.6,5.91],[314.9,6.1],[315.8,6.02],[318.1,6.02],[320,6.02],[321.3,5.93],[323.2,5.88],[324.5,5.88],[325.8,5.83],[327.7,5.8],[329.6,5.77],[331.2,5.74],[332.2,5.72],[333.1,5.88],[334.8,5.96],[336,6.1]];

const pluie = [];

// ---- chart ----
const FONT = 'Lato';
const colors = ['#a6a6a6','#000000','#5f5fff','#00b0f0','#00b050','#ff9933','#ff0000','#5b9bd5'];
const dataList = [alfortville, colombes, bougival, sartrouville, andresy, meulan, mericourt];

const series = dataList.map((d, i) => ({
  name: seriesNames[i], type: 'line', data: d, connectNulls: false,
  symbol: 'circle', symbolSize: 5, showSymbol: true,
  lineStyle: { width: 3.5, color: colors[i] }, itemStyle: { color: colors[i] },
  emphasis: { disabled: true }, z: 2 + i
}));
series.push({ name: 'Pluie', type: 'line', data: pluie, itemStyle: { color: colors[7] }, lineStyle: { color: colors[7] } });

const legendPos = [[195,31],[625,31],[1055,31],[1486,31],[195,75],[625,75],[1055,75],[1486,75]];
const arrowPath = 'path://M0,8L11,0L11,5L38,5L38,0L49,8L38,16L38,11L11,11L11,16Z';
const legends = seriesNames.map((n, i) => ({
  data: [i === 7 ? { name: n, icon: arrowPath } : n],
  left: legendPos[i][0], top: legendPos[i][1], padding: 0,
  itemWidth: i === 7 ? 49 : 53, itemHeight: i === 7 ? 16 : 14, itemGap: 0, itemTextGap: 5,
  selectedMode: false,
  lineStyle: { width: 5 },
  itemStyle: { borderWidth: 0 },
  textStyle: { fontFamily: FONT, fontSize: 21.5, color: '#404040', lineHeight: 24 }
}));

const boxFont = '21px "Liberation Sans"';
const graphic = [
  { type: 'text', silent: true, z: 100, style: { text: 'Suivi de la concentration en O', x: 1238, y: 14, align: 'right', verticalAlign: 'bottom', font: '34px Lato', fill: '#595959' } },
  { type: 'text', silent: true, z: 100, style: { text: '2', x: 1241, y: 20, align: 'left', verticalAlign: 'bottom', font: '21px Lato', fill: '#595959' } },
  { type: 'rect', silent: true, z: 100, shape: { x: 733.5, y: 133.5, width: 453, height: 121 }, style: { fill: '#fff9ec', stroke: '#3a3a3a', lineWidth: 1 } },
  { type: 'text', silent: true, z: 101, style: { text: 'Débit et température de la Seine', x: 753, y: 157, align: 'left', verticalAlign: 'middle', font: boxFont, fill: '#000' } },
  { type: 'line', silent: true, z: 101, shape: { x1: 753, y1: 166, x2: 1061, y2: 166 }, style: { stroke: '#000', lineWidth: 1.3 } },
  { type: 'text', silent: true, z: 101, style: { text: 'Débit à Paris Austerlitz', x: 753, y: 197, align: 'left', verticalAlign: 'middle', font: boxFont, fill: '#000' } },
  { type: 'text', silent: true, z: 101, style: { text: ':', x: 1002, y: 197, align: 'left', verticalAlign: 'middle', font: boxFont, fill: '#000' } },
  { type: 'text', silent: true, z: 101, style: { text: '103 m³/s', x: 1018, y: 197, align: 'left', verticalAlign: 'middle', font: boxFont, fill: '#000' } },
  { type: 'text', silent: true, z: 101, style: { text: 'Température à Bougival', x: 753, y: 222, align: 'left', verticalAlign: 'middle', font: boxFont, fill: '#000' } },
  { type: 'text', silent: true, z: 101, style: { text: ':', x: 1002, y: 222, align: 'left', verticalAlign: 'middle', font: boxFont, fill: '#000' } },
  { type: 'text', silent: true, z: 101, style: { text: '20.2 °C', x: 1018, y: 222, align: 'left', verticalAlign: 'middle', font: boxFont, fill: '#000' } }
];

const chart = echarts.init(document.getElementById('c'), null, { renderer: 'canvas' });
chart.setOption({
  animation: false,
  backgroundColor: '#ffffff',
  grid: { left: 94, right: 9, top: 18, bottom: 148 },
  xAxis: {
    type: 'value', min: 0, max: 336, interval: 24,
    axisLine: { show: true, lineStyle: { color: '#bfbfbf', width: 1.5 } },
    axisTick: { show: false },
    splitLine: { show: true, lineStyle: { color: '#d9d9d9', width: 1 } },
    minorTick: { show: false, splitNumber: 12 },
    minorSplitLine: { show: true, lineStyle: { color: '#efefef', width: 1 } },
    axisLabel: { rotate: 57, margin: 20, formatter: v => xLabels[Math.round(v / 24)], fontFamily: FONT, fontSize: 21, color: '#595959' }
  },
  yAxis: {
    type: 'value', min: 0, max: 17, interval: 1,
    axisLine: { show: true, lineStyle: { color: '#bfbfbf', width: 1.5 } },
    axisTick: { show: false },
    splitLine: { show: true, lineStyle: { color: '#d9d9d9', width: 1 } },
    minorTick: { show: false, splitNumber: 2 },
    minorSplitLine: { show: true, lineStyle: { color: '#ebebeb', width: 1 } },
    axisLabel: { margin: 20, fontFamily: FONT, fontSize: 21, color: '#595959' },
    name: 'concentration O{s|2} (mg/L)', nameLocation: 'middle', nameGap: 56,
    nameTextStyle: { fontFamily: FONT, fontSize: 24, color: '#595959', lineHeight: 30,
      rich: { s: { fontFamily: FONT, fontSize: 15, color: '#595959', verticalAlign: 'bottom', lineHeight: 16 } } }
  },
  legend: legends,
  graphic: graphic,
  series: series
});
</script>
</body></html>
